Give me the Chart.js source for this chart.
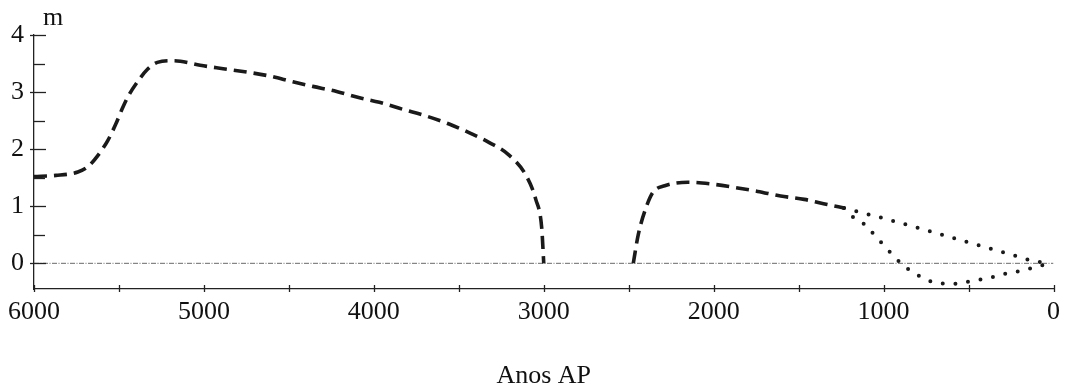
<!DOCTYPE html>
<html>
<head>
<meta charset="utf-8">
<script src="https://cdn.jsdelivr.net/npm/chart.js@4"></script>
<style>
  html, body { margin: 0; padding: 0; background: #fff; }
  canvas { display: block; }
</style>
</head>
<body>
<canvas id="chart" width="1068" height="389"></canvas>
<script>
// Anos AP (years before present) and sea level in metres
const anosTrecho1 = [6000, 5871, 5742, 5684, 5619, 5566, 5520, 5479, 5443, 5391, 5332, 5274, 5180, 5139, 5022, 4887, 4746, 4612, 4477, 4360, 4219, 4084, 3967, 3832, 3692, 3557, 3440, 3323, 3206, 3106, 3047, 3012, 3000];
const nivelTrecho1 = [1.52, 1.54, 1.60, 1.69, 1.91, 2.15, 2.43, 2.72, 2.94, 3.18, 3.40, 3.52, 3.55, 3.54, 3.47, 3.41, 3.35, 3.28, 3.18, 3.10, 3.01, 2.90, 2.82, 2.70, 2.58, 2.44, 2.29, 2.12, 1.90, 1.55, 1.12, 0.62, 0];

const anosTrecho2 = [2473, 2444, 2395, 2356, 2288, 2151, 2016, 1878, 1741, 1606, 1467, 1331, 1233];
const nivelTrecho2 = [0, 0.5, 1.0, 1.25, 1.36, 1.42, 1.39, 1.33, 1.26, 1.18, 1.12, 1.03, 0.97];

const anosPontilhadoSup = [1233, 1002, 783, 562, 340, 120, 30];
const nivelPontilhadoSup = [0.97, 0.79, 0.61, 0.42, 0.23, 0.04, 0];

const anosPontilhadoInf = [1233, 1184, 1116, 1058, 1000, 941, 883, 814, 745, 671, 595, 521, 445, 370, 296, 222, 148, 72, 30];
const nivelPontilhadoInf = [0.97, 0.82, 0.69, 0.51, 0.32, 0.13, -0.04, -0.18, -0.29, -0.35, -0.36, -0.33, -0.29, -0.25, -0.19, -0.15, -0.10, -0.04, 0];

const anosZero = [6000, 0];
const nivelZero = [0, 0];

const ticksY = [0, 1, 2, 3, 4];
const fonte = "'Liberation Serif', 'Times New Roman', serif";

function pontos(xs, ys) {
    return xs.map((x, i) => ({ x: x, y: ys[i] }));
}

// small tick marks drawn inside the plot, like the original figure
const marcasPlugin = {
    id: "marcas",
    afterDraw(chart) {
        const ctx = chart.ctx;
        const xs = chart.scales.x;
        const ys = chart.scales.y;
        const x0 = xs.getPixelForValue(6000);
        const yBase = ys.getPixelForValue(ys.min);
        ctx.save();
        ctx.strokeStyle = "#222";
        ctx.lineWidth = 1.3;
        for (let v = 0; v <= 4; v += 0.5) {
            const py = Math.round(ys.getPixelForValue(v)) + 0.5;
            ctx.beginPath();
            if (Number.isInteger(v)) {
                ctx.moveTo(x0 - 4, py);
                ctx.lineTo(x0 + 12, py);
            } else {
                ctx.moveTo(x0, py);
                ctx.lineTo(x0 + 11, py);
            }
            ctx.stroke();
        }
        for (let a = 0; a <= 6000; a += 500) {
            const px = Math.round(xs.getPixelForValue(a)) + 0.5;
            ctx.beginPath();
            ctx.moveTo(px, yBase - 4);
            ctx.lineTo(px, yBase + 3);
            ctx.stroke();
        }
        ctx.fillStyle = "#111";
        ctx.font = "26px " + fonte;
        ctx.textAlign = "left";
        ctx.textBaseline = "alphabetic";
        ctx.fillText("m", x0 + 9, 25);
        ctx.restore();
    },
};

new Chart(document.getElementById("chart"), {
    type: "line",
    data: {
        datasets: [
            {
                data: pontos(anosTrecho1, nivelTrecho1),
                borderColor: "#1a1a1a",
                borderWidth: 3.6,
                borderDash: [13, 7],
                cubicInterpolationMode: "monotone",
                pointRadius: 0,
            },
            {
                data: pontos(anosTrecho2, nivelTrecho2),
                borderColor: "#1a1a1a",
                borderWidth: 3.6,
                borderDash: [13, 7],
                cubicInterpolationMode: "monotone",
                pointRadius: 0,
            },
            {
                data: pontos(anosPontilhadoSup, nivelPontilhadoSup),
                borderColor: "#1a1a1a",
                borderWidth: 4,
                borderDash: [0, 12.7],
                borderCapStyle: "round",
                tension: 0,
                pointRadius: 0,
            },
            {
                data: pontos(anosPontilhadoInf, nivelPontilhadoInf),
                borderColor: "#1a1a1a",
                borderWidth: 4,
                borderDash: [0, 12.7],
                borderCapStyle: "round",
                cubicInterpolationMode: "monotone",
                pointRadius: 0,
            },
            {
                data: pontos(anosZero, nivelZero),
                borderColor: "#6a6a6a",
                borderWidth: 1,
                borderDash: [5, 1.5, 1, 1.5],
                pointRadius: 0,
            },
        ],
    },
    options: {
        responsive: false,
        animation: false,
        layout: { padding: { left: 0, right: 11, top: 35, bottom: 0 } },
        plugins: {
            legend: { display: false },
            tooltip: { enabled: false },
        },
        scales: {
            x: {
                type: "linear",
                reverse: true,
                min: 0,
                max: 6000,
                grid: { display: false, drawTicks: false },
                border: { display: true, color: "#222", width: 1.3 },
                ticks: {
                    stepSize: 1000,
                    maxRotation: 0,
                    padding: 8,
                    color: "#111",
                    font: { family: fonte, size: 26 },
                    callback: (v) => String(v),
                },
                title: {
                    display: true,
                    text: "Anos AP",
                    color: "#111",
                    font: { family: fonte, size: 26, lineHeight: 1 },
                    padding: 0,
                },
                afterFit(scale) {
                    scale.height = 100;
                },
            },
            y: {
                min: -0.45,
                max: 4,
                grid: { display: false, drawTicks: false },
                border: { display: true, color: "#222", width: 1.3 },
                afterBuildTicks(scale) {
                    scale.ticks = ticksY.map((v) => ({ value: v }));
                },
                ticks: {
                    padding: 10,
                    color: "#111",
                    font: { family: fonte, size: 26 },
                    callback: (v) => String(v),
                },
                afterFit(scale) {
                    scale.width = 33;
                },
            },
        },
    },
    plugins: [marcasPlugin],
});
</script>
</body>
</html>
